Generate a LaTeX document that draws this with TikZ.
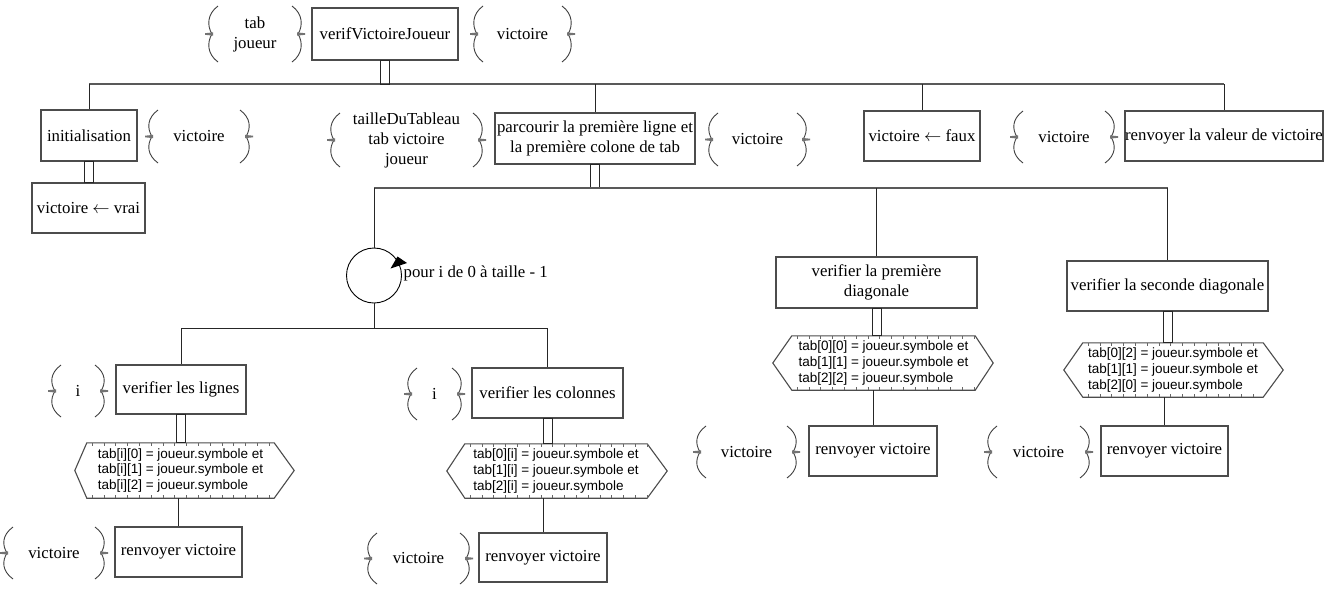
\documentclass[tikz,border=0pt]{standalone}
\usepackage{fontspec}
\setmainfont{Liberation Serif}
\newfontfamily\hexfont{Liberation Sans}
\usetikzlibrary{calc}
\newcommand\mainsz{\fontsize{16.8}{20}\selectfont}
\newcommand\hexsz{\hexfont\fontsize{13.5}{16}\selectfont}
\tikzset{
 box/.style={draw=black!70, line width=1.1pt, inner sep=0pt, align=center, font=\mainsz, fill=white},
 bgtext/.style={inner sep=0pt, align=center, font=\mainsz},
 brc/.style={draw=black!75, line width=0.9pt},
 brcmark/.style={fill=black!55},
 hexframe/.style={draw=black!70, line width=1.1pt},
 hextext/.style={inner sep=0pt, align=left, font=\hexsz},
 hexticks/.style={draw=black!60, line width=3pt, dash pattern=on 0.8pt off 11pt},
 conn/.style={draw=black!85, line width=1pt},
 bus/.style={draw=black!65, line width=1.6pt},
 dbl/.style={draw=black!85, line width=1pt},
}
% brace group: name, cx, cy, half width, half height, text
\newcommand\brg[6]{%
 \node[bgtext] (#1) at (#2,#3) {#6};
 \begin{scope}[shift={(#1.center)}]
  \draw[brc] (-#4,-#5) .. controls (-#4-11,-#5+8) and (-#4-11,-8) .. (-#4-6,0)
                       .. controls (-#4-11,8) and (-#4-11,#5-8) .. (-#4,#5);
  \draw[brc] (#4,-#5) .. controls (#4+11,-#5+8) and (#4+11,-8) .. (#4+6,0)
                      .. controls (#4+11,8) and (#4+11,#5-8) .. (#4,#5);
  \fill[brcmark] (-#4-5,-1.6) -- (-#4-13,-0.8) -- (-#4-13,0.8) -- (-#4-5,1.6) -- cycle;
  \fill[brcmark] (#4+5,-1.6) -- (#4+13,-0.8) -- (#4+13,0.8) -- (#4+5,1.6) -- cycle;
 \end{scope}
}
% hexagon: name, cx, cy, w, h, left point, right point, text
\newcommand\hexnode[8]{%
 \node[hextext, minimum width=#4, minimum height=#5] (#1) at (#2,#3) {#8};
 \draw[hexframe] (#1.north west) -- (#1.north east) -- ($(#1.east)+(#7,0)$)
   -- (#1.south east) -- (#1.south west) -- ($(#1.west)+(-#6,0)$) -- cycle;
 \draw[hexticks] ($(#1.north west)+(5,1.5)$) -- ($(#1.north east)+(0,1.5)$);
 \draw[hexticks] ($(#1.south west)+(5,-1.5)$) -- ($(#1.south east)+(0,-1.5)$);
}
\newcommand\dblc[2]{\draw[dbl] ($(#1)+(-4.5,0)$) rectangle ($(#2)+(4.5,0)$);}
\begin{document}
\begin{tikzpicture}[x=1pt,y=-1pt]
\useasboundingbox[fill=white] (0,0) rectangle (1331,590);

% boxes
\node[box, minimum width=146, minimum height=52] (verif) at (385,34) {verifVictoireJoueur};
\node[box, minimum width=96, minimum height=51] (init) at (89,135.5) {initialisation};
\node[box, minimum width=113, minimum height=50] (vrai) at (88.5,208) {victoire $\leftarrow$ vrai};
\node[box, minimum width=200, minimum height=51] (parc) at (595,138.5) {parcourir la première ligne et\\la première colone de tab};
\node[box, minimum width=116, minimum height=50] (faux) at (922,136) {victoire $\leftarrow$ faux};
\node[box, minimum width=198, minimum height=50] (renvVal) at (1224,136) {renvoyer la valeur de victoire};
\node[box, minimum width=130, minimum height=49] (vLig) at (181,389.5) {verifier les lignes};
\node[box, minimum width=127, minimum height=50] (renvL) at (178.5,552) {renvoyer victoire};
\node[box, minimum width=151, minimum height=50] (vCol) at (547.5,393) {verifier les colonnes};
\node[box, minimum width=128, minimum height=49] (renvC) at (543,557.5) {renvoyer victoire};
\node[box, minimum width=201, minimum height=51] (diag1) at (876.5,282.5) {verifier la première\\diagonale};
\node[box, minimum width=128, minimum height=50] (renvD1) at (873,451) {renvoyer victoire};
\node[box, minimum width=201, minimum height=50] (diag2) at (1167.5,286) {verifier la seconde diagonale};
\node[box, minimum width=127, minimum height=50] (renvD2) at (1164.5,451) {renvoyer victoire};

% brace groups
\brg{bgA}{255}{34}{37}{28}{tab\\joueur}
\brg{bgB}{522.5}{34}{39.5}{28}{victoire}
\brg{bgC}{199}{136.5}{41}{26.5}{victoire}
\brg{bgD}{406.5}{140}{66.5}{27}{tailleDuTableau\\tab victoire\\joueur}
\brg{bgE}{757.5}{139.5}{39.5}{26.5}{victoire}
\brg{bgF}{1064}{137}{41}{26}{victoire}
\brg{bgG}{78}{391}{17}{26}{i}
\brg{bgH}{54}{553}{41}{26}{victoire}
\brg{bgI}{434.5}{394}{17.5}{26}{i}
\brg{bgJ}{418.5}{558.5}{41.5}{25.5}{victoire}
\brg{bgK}{746.5}{452}{40.5}{26}{victoire}
\brg{bgL}{1038.5}{452}{41.5}{26}{victoire}

% hexagons
\hexnode{hexL}{180.5}{470.5}{187}{55}{12}{20}{tab[i][0] = joueur.symbole et\\tab[i][1] = joueur.symbole et\\tab[i][2] = joueur.symbole}
\hexnode{hexC}{556}{471}{182}{54}{18}{20}{tab[0][i] = joueur.symbole et\\tab[1][i] = joueur.symbole et\\tab[2][i] = joueur.symbole}
\hexnode{hexD1}{883.5}{363}{183}{54}{19}{18}{tab[0][0] = joueur.symbole et\\tab[1][1] = joueur.symbole et\\tab[2][2] = joueur.symbole}
\hexnode{hexD2}{1173}{370}{180}{54}{19}{20}{tab[0][2] = joueur.symbole et\\tab[1][1] = joueur.symbole et\\tab[2][0] = joueur.symbole}

% loop
\node[draw=black, line width=0.9pt, circle, minimum size=55, inner sep=0pt] (loop) at (374,275.5) {};
\begin{scope}[shift={(loop.center)}]
 \fill[black] (33,-12.5) -- (16.5,-7) -- (23.5,-19) -- cycle;
\end{scope}
\node[bgtext, anchor=west] (loopl) at ($(loop.east)+(1.5,-2.5)$) {pour i de 0 à taille - 1};

% bus 1
\coordinate (b1L) at (89,84);
\coordinate (b1R) at (1224,84);
\draw[bus] (b1L) -- (b1R);
\dblc{verif.south}{verif.south |- b1L}
\draw[conn] (b1L) -- (init.north);
\draw[conn] (parc.north |- b1L) -- (parc.north);
\draw[conn] (faux.north |- b1L) -- (faux.north);
\draw[conn] (b1R) -- (renvVal.north);
\dblc{init.south}{vrai.north}

% bus 2
\coordinate (b2L) at (374,188);
\coordinate (b2R) at (1167.5,188);
\dblc{parc.south}{parc.south |- b2L}
\draw[bus] (b2L) -- (b2R);
\draw[conn] (b2L) -- (loop.north);
\draw[conn] (diag1.north |- b2L) -- (diag1.north);
\draw[conn] (b2R) -- (diag2.north);

% bus 3
\coordinate (b3L) at (181,328);
\coordinate (b3R) at (547.5,328);
\draw[conn] (loop.south) -- (loop.south |- b3L);
\draw[conn] (b3L) -- (b3R);
\draw[conn] (b3L) -- (vLig.north);
\draw[conn] (b3R) -- (vCol.north);

% lower connectors
\dblc{vLig.south}{vLig.south |- hexL.north}
\draw[conn] (renvL.north |- hexL.south) -- (renvL.north);
\dblc{vCol.south}{vCol.south |- hexC.north}
\draw[conn] (renvC.north |- hexC.south) -- (renvC.north);
\dblc{diag1.south}{diag1.south |- hexD1.north}
\draw[conn] (renvD1.north |- hexD1.south) -- (renvD1.north);
\dblc{diag2.south}{diag2.south |- hexD2.north}
\draw[conn] (renvD2.north |- hexD2.south) -- (renvD2.north);
\end{tikzpicture}
\end{document}
